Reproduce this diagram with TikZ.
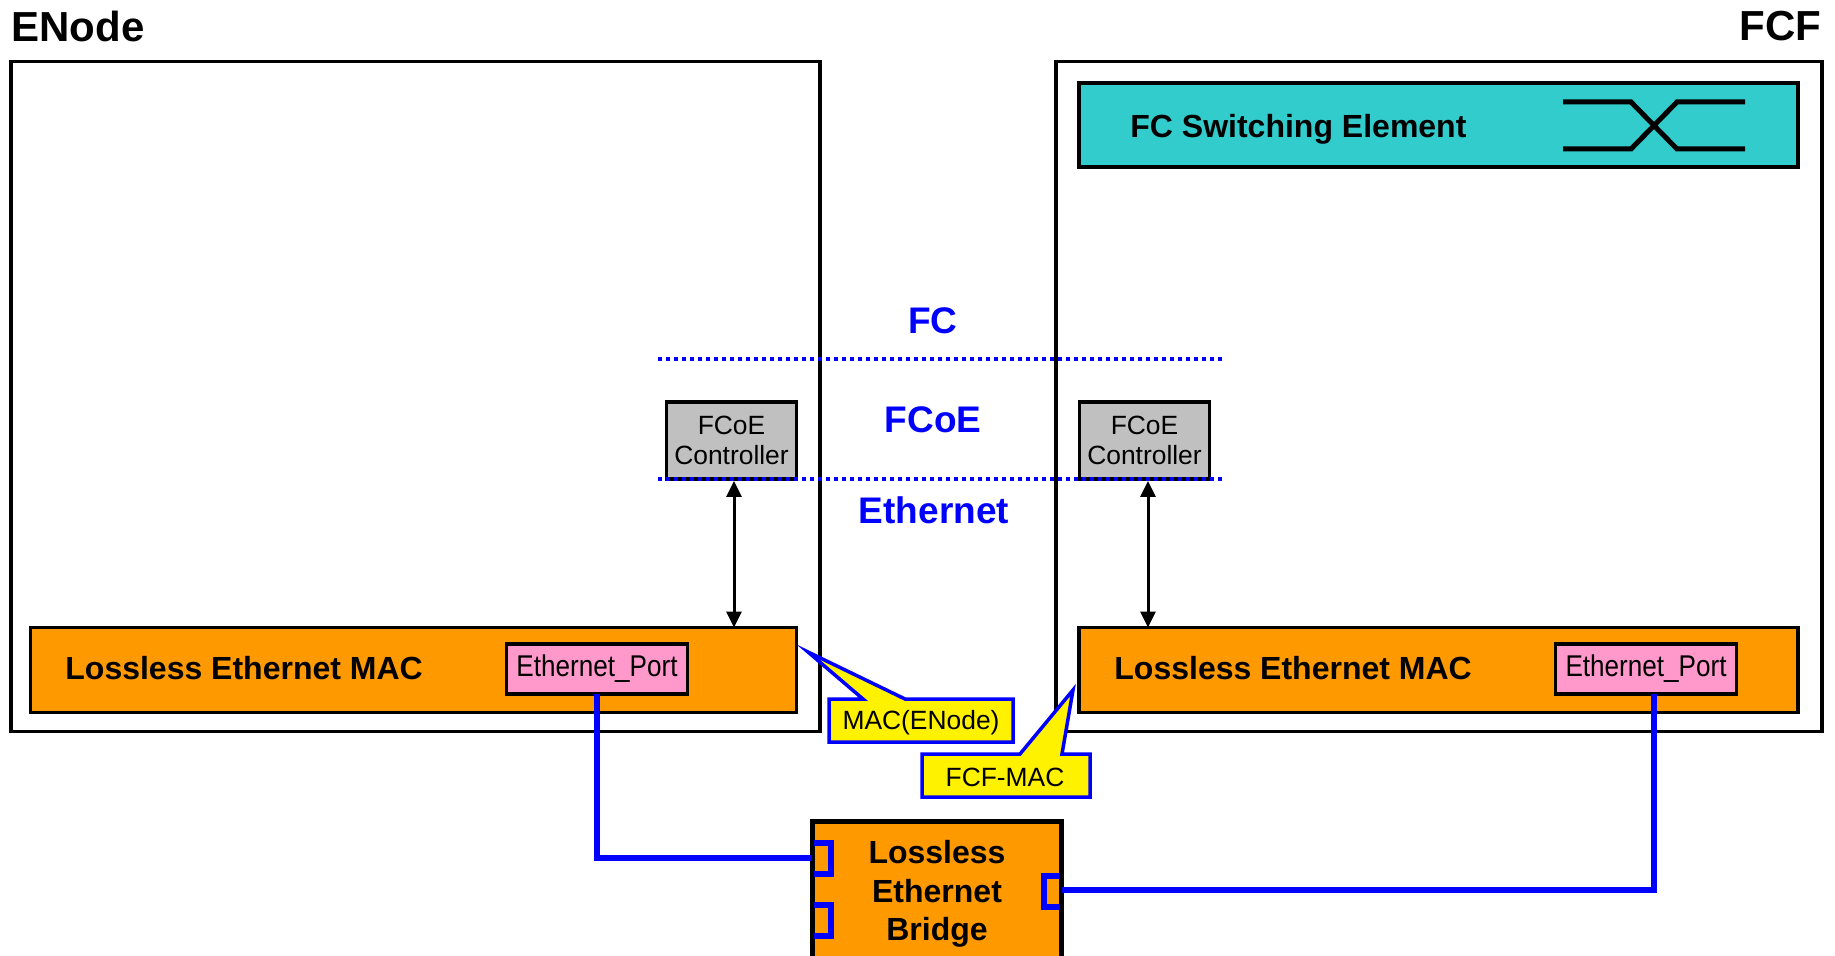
\documentclass[tikz,border=0pt]{standalone}
\usepackage{fontspec}
\setmainfont{Liberation Sans}
\newfontfamily\narrowfont[FakeStretch=0.87]{Liberation Sans}
\usetikzlibrary{arrows.meta}
\definecolor{macorange}{HTML}{FF9900}
\definecolor{switchteal}{HTML}{33CCCC}
\definecolor{portpink}{HTML}{FF99CC}
\definecolor{ctrlgray}{HTML}{C0C0C0}
\tikzset{
  blockbox/.style={draw=black, line width=1.9pt, outer sep=0pt, inner sep=0pt},
  macbox/.style={blockbox, fill=macorange, minimum height=42.5pt},
  portbox/.style={blockbox, fill=portpink, minimum width=90.5pt, minimum height=25pt, font=\narrowfont\fontsize{15}{18}\selectfont},
  ctrlbox/.style={blockbox, fill=ctrlgray, minimum width=65pt, minimum height=38.5pt, align=center, font=\fontsize{13.2}{14.6}\selectfont},
  titletext/.style={font=\bfseries\fontsize{21}{24}\selectfont, inner sep=0pt},
  boldtext/.style={font=\bfseries\fontsize{16}{19.3}\selectfont, inner sep=0pt, align=center},
  layertext/.style={font=\bfseries\fontsize{18.5}{22}\selectfont, text=blue, inner sep=0pt},
  layerline/.style={blue, line width=1.8pt, dash pattern=on 2pt off 2pt},
  linkline/.style={blue, line width=2.6pt},
  portmark/.style={blue, line width=2.6pt},
  callout/.style={draw=blue, fill=yellow, line width=1.75pt, miter limit=10},
  callouttext/.style={font=\fontsize{13.2}{15}\selectfont, inner sep=0pt},
  bothtips/.style={{Triangle[length=8pt,width=7.5pt]}-{Triangle[length=8pt,width=7.5pt]}, line width=1.5pt}
}
\begin{document}
\begin{tikzpicture}[x=0.5pt,y=-0.5pt]
 \useasboundingbox (0,0) rectangle (1835,956);

 %outer boxes
 \node[draw=black, line width=1.75pt, minimum width=404.5pt, minimum height=335pt] (enode) at (415.5,396.5) {};
 \node[draw=black, line width=1.75pt, minimum width=383pt, minimum height=335pt] (fcf) at (1439,396.5) {};
 \node[titletext, anchor=west] (enodeName) at (11,26) {ENode};
 \node[titletext, anchor=east] (fcfName) at (1822,26) {FCF};

 %switching element
 \node[blockbox, fill=switchteal, minimum width=359.5pt, minimum height=42pt] (switch) at (1438.5,125) {};
 \node[boldtext, anchor=west] (switchText) at (1130,129) {FC Switching Element};
 \draw[line width=2.5pt] (1563,102) -- (1631,102) -- (1677,149) -- (1745,149);
 \draw[line width=2.5pt] (1563,149) -- (1631,149) -- (1677,102) -- (1745,102);

 %mac blocks
 \foreach \name/\dx/\macw/\cx in {A/0/383/413.5, B/1049/359.5/1438.5} {
   \node[macbox, minimum width=\macw pt] (mac\name) at (\cx,670) {};
   \node[boldtext, anchor=west] (macText\name) at (65+\dx,668) {Lossless Ethernet MAC};
   \node[portbox] (port\name) at (597+\dx,669) {\raisebox{-1pt}{Ethernet\_Port}};
 }

 %controllers
 \node[ctrlbox] (ctrlA) at (731.5,440.5) {FCoE\\Controller};
 \node[ctrlbox] (ctrlB) at (1144.5,440.5) {FCoE\\Controller};

 %arrows
 \draw[bothtips] ([xshift=1.25pt,yshift=-1pt]ctrlA.south) -- ([xshift=1.25pt]ctrlA.south |- macA.north);
 \draw[bothtips] ([xshift=1.75pt,yshift=-1pt]ctrlB.south) -- ([xshift=1.75pt]ctrlB.south |- macB.north);

 %layers
 \coordinate (layerTopL) at (658,359);
 \coordinate (layerTopR) at (1222,359);
 \coordinate (layerLowL) at (658,479);
 \coordinate (layerLowR) at (1222,479);
 \draw[layerline] (layerTopL) -- (layerTopR);
 \draw[layerline] (layerLowL) -- (layerLowR);
 \node[layertext] (fcText) at (933,321) {FC};
 \node[layertext] (fcoeText) at (933,420) {FCoE};
 \node[layertext] (ethText) at (934,510) {Ethernet};

 %bridge
 \node[draw=black, fill=macorange, line width=2.5pt, outer sep=0pt, minimum width=124.5pt, minimum height=100pt, anchor=north] (bridge) at (936.5,821) {};
 \node[boldtext] (bridgeText) at (937,894) {Lossless\\Ethernet\\Bridge};
 \draw[portmark] (814,843) -- (831,843) -- (831,874) -- (814,874);
 \draw[portmark] (814,905) -- (831,905) -- (831,936) -- (814,936);
 \draw[portmark] (1060,876) -- (1044,876) -- (1044,907) -- (1060,907);

 %links
 \coordinate (bridgeIn) at (812,858);
 \coordinate (bridgeOut) at (1062,890);
 \coordinate (portOut) at (1654,694);
 \draw[linkline] (portA.south) |- (bridgeIn);
 \draw[linkline] (portOut) |- (bridgeOut);

 %callouts
 \draw[callout] (829,699) -- (863,699) -- (808,652) -- (905,699) -- (1013,699) -- (1013,742) -- (829,742) -- cycle;
 \node[callouttext] (macEnode) at (921,723) {MAC(ENode)};
 \draw[callout] (922,754) -- (1020,754) -- (1073,690) -- (1062,754) -- (1090,754) -- (1090,797) -- (922,797) -- cycle;
 \node[callouttext] (fcfMac) at (1005,777) {FCF-MAC};
\end{tikzpicture}
\end{document}
